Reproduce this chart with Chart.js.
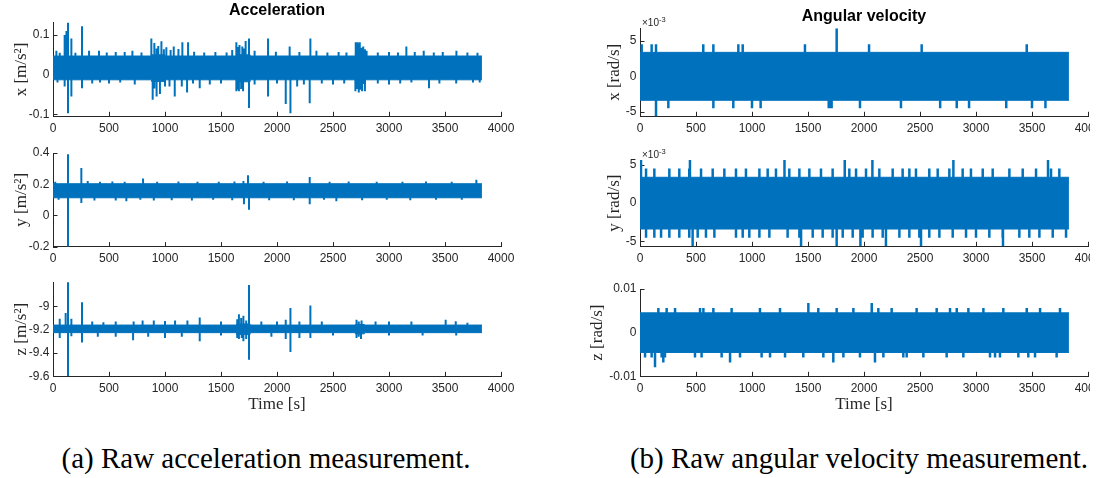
<!DOCTYPE html>
<html>
<head>
<meta charset="utf-8">
<script src="https://cdn.jsdelivr.net/npm/chart.js@4.4.1/dist/chart.umd.min.js"></script>
<style>
  body { margin: 0; background: #fff; width: 1103px; height: 478px; overflow: hidden; position: relative; }
  .box { position: absolute; overflow: hidden; }
  .cap { position: absolute; font-family: 'Liberation Serif', serif; font-size: 29px; line-height: 29px;
         white-space: nowrap; color: #000; text-align: center; }
</style>
</head>
<body>
<div class="box" id="b1"><canvas id="c1"></canvas></div>
<div class="box" id="b2"><canvas id="c2"></canvas></div>
<div class="box" id="b3"><canvas id="c3"></canvas></div>
<div class="box" id="b4"><canvas id="c4"></canvas></div>
<div class="box" id="b5"><canvas id="c5"></canvas></div>
<div class="box" id="b6"><canvas id="c6"></canvas></div>
<div class="cap" style="left:0;width:532px;top:444px">(a) Raw acceleration measurement.</div>
<div class="cap" style="left:620px;width:478px;top:444px">(b) Raw angular velocity measurement.</div>
<script>
// time axis
const timeTicks = [0, 500, 1000, 1500, 2000, 2500, 3000, 3500, 4000];

// y tick labels
const accXTicks = [-0.1, 0, 0.1];
const accYTicks = [-0.2, 0, 0.2, 0.4];
const accZTicks = [-9.6, -9.4, -9.2, -9];
const gyrXTicks = [-0.005, 0, 0.005];
const gyrYTicks = [-0.005, 0, 0.005];
const gyrZTicks = [-0.01, 0, 0.01];

// noise band of each signal: [time, low, high], held until the next time
const accXBand = [[0, -0.013, 0.047], [880, -0.017, 0.05], [1000, -0.013, 0.047], [1640, -0.018, 0.05],
                  [1760, -0.013, 0.047], [2700, -0.022, 0.055], [2790, -0.013, 0.047], [3830, -0.013, 0.047]];
const accYBand = [[0, 0.113, 0.203], [3830, 0.113, 0.203]];
const accZBand = [[0, -9.225, -9.16], [1640, -9.24, -9.15], [1760, -9.225, -9.16], [2700, -9.235, -9.155],
                  [2780, -9.225, -9.16], [3830, -9.225, -9.16]];
const gyrXBand = [[0, -0.0034, 0.0034], [3830, -0.0034, 0.0034]];
const gyrYBand = [[0, -0.0034, 0.0034], [3830, -0.0034, 0.0034]];
const gyrZBand = [[0, -0.00454, 0.00454], [3830, -0.00454, 0.00454]];

// peaks sticking out of the band: [time, value]
const accXPeaks = [
  [30, 0.06], [60, 0.055], [104, 0.10], [120, 0.11], [134, 0.133], [164, 0.091], [200, 0.055], [259, 0.122],
  [322, 0.06], [411, 0.06], [480, 0.056], [560, 0.057], [640, 0.057], [709, 0.06], [790, 0.056], [878, 0.091],
  [905, 0.08], [925, 0.066], [940, 0.072], [968, 0.084], [990, 0.064], [1012, 0.069], [1050, 0.062], [1078, 0.071],
  [1120, 0.065], [1155, 0.082], [1206, 0.082], [1260, 0.058], [1350, 0.056], [1450, 0.057], [1550, 0.056],
  [1600, 0.062], [1637, 0.082], [1650, 0.07], [1665, 0.075], [1690, 0.071], [1705, 0.066], [1720, 0.085],
  [1750, 0.091], [1800, 0.06], [1920, 0.091], [1990, 0.058], [2113, 0.071], [2200, 0.057], [2298, 0.091],
  [2352, 0.06], [2450, 0.056], [2550, 0.057], [2620, 0.056], [2703, 0.082], [2712, 0.08], [2720, 0.082],
  [2730, 0.078], [2739, 0.082], [2755, 0.068], [2770, 0.071], [2785, 0.064], [2800, 0.06], [2900, 0.056],
  [3000, 0.057], [3080, 0.056], [3155, 0.071], [3230, 0.057], [3310, 0.06], [3400, 0.056], [3480, 0.057],
  [3602, 0.06], [3700, 0.056], [3790, 0.055],
  [40, -0.02], [104, -0.03], [134, -0.097], [164, -0.055], [259, -0.034], [350, -0.022], [420, -0.02],
  [500, -0.022], [600, -0.02], [730, -0.025], [890, -0.063], [905, -0.035], [925, -0.055], [955, -0.049],
  [1000, -0.03], [1040, -0.03], [1087, -0.055], [1150, -0.03], [1197, -0.045], [1250, -0.022], [1310, -0.034],
  [1400, -0.025], [1500, -0.022], [1637, -0.042], [1650, -0.038], [1660, -0.042], [1680, -0.036], [1697, -0.042],
  [1750, -0.084], [1800, -0.025], [1920, -0.055], [2000, -0.022], [2078, -0.074], [2120, -0.097], [2180, -0.03],
  [2240, -0.025], [2292, -0.072], [2400, -0.022], [2500, -0.025], [2600, -0.022], [2700, -0.042], [2715, -0.036],
  [2730, -0.045], [2745, -0.038], [2760, -0.042], [2785, -0.042], [2900, -0.022], [3000, -0.025], [3100, -0.022],
  [3200, -0.02], [3357, -0.034], [3450, -0.022], [3600, -0.022], [3750, -0.02], [3810, -0.02]
];
const accYPeaks = [
  [20, 0.215], [134, 0.392], [253, 0.304], [310, 0.22], [420, 0.215], [530, 0.218], [640, 0.215], [804, 0.236],
  [930, 0.215], [1120, 0.218], [1290, 0.215], [1480, 0.215], [1620, 0.218], [1700, 0.22], [1741, 0.257],
  [1880, 0.215], [2090, 0.218], [2292, 0.246], [2470, 0.215], [2640, 0.218], [2890, 0.215], [3120, 0.215],
  [3330, 0.218], [3560, 0.215], [3780, 0.229],
  [50, 0.1], [134, -0.203], [253, 0.08], [370, 0.095], [560, 0.095], [655, 0.09], [780, 0.1], [900, 0.095],
  [1060, 0.097], [1240, 0.095], [1430, 0.1], [1600, 0.097], [1705, 0.071], [1750, 0.037], [1930, 0.097],
  [2150, 0.097], [2292, 0.071], [2420, 0.1], [2530, 0.09], [2760, 0.097], [2980, 0.1], [3190, 0.097],
  [3420, 0.1], [3650, 0.1]
];
const accZPeaks = [
  [60, -9.105], [113, -9.057], [134, -8.792], [164, -9.105], [259, -8.963], [350, -9.13], [450, -9.135],
  [560, -9.13], [720, -9.13], [800, -9.12], [900, -9.12], [1000, -9.125], [1090, -9.12], [1200, -9.12],
  [1310, -9.094], [1500, -9.13], [1645, -9.11], [1660, -9.066], [1680, -9.1], [1700, -9.08], [1725, -9.12],
  [1750, -8.815], [1860, -9.13], [2000, -9.13], [2078, -9.114], [2120, -9.014], [2200, -9.13], [2298, -8.992],
  [2400, -9.13], [2710, -9.114], [2730, -9.13], [2755, -9.12], [2880, -9.13], [3000, -9.13], [3200, -9.13],
  [3506, -9.114], [3596, -9.128], [3700, -9.14],
  [60, -9.27], [134, -9.6], [164, -9.257], [259, -9.309], [400, -9.26], [560, -9.26], [715, -9.291],
  [850, -9.26], [1000, -9.27], [1150, -9.26], [1310, -9.3], [1500, -9.25], [1645, -9.27], [1660, -9.28],
  [1685, -9.27], [1700, -9.3], [1725, -9.28], [1750, -9.457], [1950, -9.26], [2078, -9.28], [2120, -9.392],
  [2200, -9.27], [2298, -9.27], [2500, -9.25], [2710, -9.27], [2730, -9.26], [2750, -9.28], [3000, -9.25],
  [3300, -9.25], [3600, -9.25]
];
const gyrXPeaks = [
  [15, 0.00454], [104, 0.00454], [143, 0.00454], [565, 0.00454], [655, 0.00454], [878, 0.00454],
  [917, 0.00454], [1473, 0.00454], [1756, 0.00681], [2045, 0.00454], [2515, 0.00454], [3453, 0.00454],
  [143, -0.00567], [253, -0.00454], [655, -0.00454], [833, -0.00454], [1000, -0.00454], [1077, -0.00454],
  [1685, -0.00454], [1698, -0.00454], [1711, -0.00454], [1964, -0.00454], [2330, -0.00454], [2680, -0.00454],
  [2828, -0.00454], [2938, -0.00454], [3270, -0.00454], [3500, -0.00454], [3620, -0.00454]
];
const gyrYPeaks = [
  [9, 0.00567], [446, 0.00567], [1290, 0.00567], [1828, 0.00567], [2075, 0.00567], [2798, 0.00567], [3643, 0.00567],
  [54, 0.00454], [128, 0.00454], [262, 0.00454], [351, 0.00454], [440, 0.00454], [545, 0.00454], [649, 0.00454],
  [753, 0.00454], [857, 0.00454], [946, 0.00454], [1066, 0.00454], [1140, 0.00454], [1214, 0.00454],
  [1333, 0.00454], [1423, 0.00454], [1512, 0.00454], [1616, 0.00454], [1720, 0.00454], [1869, 0.00454],
  [1929, 0.00454], [2018, 0.00454], [2137, 0.00454], [2256, 0.00454], [2345, 0.00454], [2405, 0.00454],
  [2464, 0.00454], [2583, 0.00454], [2658, 0.00454], [2762, 0.00454], [2881, 0.00454], [2955, 0.00454],
  [3060, 0.00454], [3149, 0.00454], [3298, 0.00454], [3417, 0.00454], [3536, 0.00454], [3670, 0.00454],
  [3744, 0.00454],
  [54, -0.00454], [128, -0.00454], [188, -0.00454], [262, -0.00454], [351, -0.00454], [440, -0.00454],
  [515, -0.00454], [589, -0.00454], [664, -0.00454], [857, -0.00454], [917, -0.00454], [976, -0.00454],
  [1066, -0.00454], [1155, -0.00454], [1318, -0.00454], [1423, -0.00454], [1542, -0.00454], [1631, -0.00454],
  [1720, -0.00454], [1810, -0.00454], [1899, -0.00454], [1988, -0.00454], [2077, -0.00454], [2167, -0.00454],
  [2316, -0.00454], [2405, -0.00454], [2494, -0.00454], [2583, -0.00454], [2673, -0.00454], [2792, -0.00454],
  [2911, -0.00454], [3000, -0.00454], [3119, -0.00454], [3238, -0.00454], [3387, -0.00454], [3476, -0.00454],
  [3566, -0.00454], [3685, -0.00454], [3804, -0.00454],
  [470, -0.00567], [1438, -0.00567], [1756, -0.00567], [1968, -0.00567], [2196, -0.00567], [2509, -0.00567],
  [3241, -0.00567]
];
const gyrZPeaks = [
  [164, 0.00567], [238, 0.00567], [313, 0.00567], [536, 0.00567], [566, 0.00567], [655, 0.00567],
  [818, 0.00567], [1071, 0.00567], [1250, 0.00567], [1503, 0.00681], [1592, 0.00567], [1756, 0.00567],
  [1905, 0.00567], [2069, 0.00681], [2128, 0.00567], [2247, 0.00567], [2470, 0.00567], [2649, 0.00567],
  [2768, 0.00567], [2828, 0.00567], [2932, 0.00567], [3066, 0.00567], [3244, 0.00567], [3453, 0.00567],
  [3572, 0.00567], [3750, 0.00567],
  [45, -0.00567], [104, -0.00567], [134, -0.00794], [193, -0.00567], [208, -0.00681], [223, -0.00567],
  [491, -0.00567], [550, -0.00567], [729, -0.00567], [804, -0.00681], [893, -0.00567], [1086, -0.00567],
  [1161, -0.00567], [1295, -0.00567], [1458, -0.00567], [1637, -0.00567], [1726, -0.00681], [1816, -0.00567],
  [1964, -0.00567], [2098, -0.00681], [2173, -0.00567], [2351, -0.00567], [2381, -0.00567], [2530, -0.00567],
  [2738, -0.00567], [2887, -0.00567], [3125, -0.00567], [3170, -0.00567], [3214, -0.00567], [3378, -0.00567],
  [3467, -0.00567], [3527, -0.00567], [3720, -0.00567]
];

const BLUE = '#0072BD';
const AXIS = '#262626';

Chart.defaults.font.family = "'Liberation Sans', Arial, sans-serif";
Chart.defaults.color = AXIS;

function bandSets(band) {
  return [
    { data: band.map(r => ({ x: r[0], y: r[2] })), borderColor: BLUE, backgroundColor: BLUE,
      borderWidth: 1, pointRadius: 0, stepped: true, fill: '+1' },
    { data: band.map(r => ({ x: r[0], y: r[1] })), borderColor: BLUE,
      borderWidth: 1, pointRadius: 0, stepped: true, fill: false }
  ];
}

function peakSet(peaks, band, w) {
  const mid = (band[0][1] + band[0][2]) / 2;
  const pts = [];
  peaks.forEach(p => pts.push({ x: p[0], y: mid }, { x: p[0], y: p[1] }, { x: p[0], y: mid }));
  return { data: pts, borderColor: BLUE, borderWidth: w, pointRadius: 0, fill: false };
}

// inward tick marks like matlab, plus the x10^-3 multiplier
const matlabTicks = {
  id: 'matlabTicks',
  beforeDatasetsDraw(chart, args, opts) {
    const { ctx, chartArea: a, scales: { x, y } } = chart;
    ctx.save();
    ctx.strokeStyle = AXIS;
    ctx.lineWidth = 1;
    ctx.beginPath();
    x.ticks.forEach(t => {
      const px = Math.round(x.getPixelForValue(t.value)) + 0.5;
      ctx.moveTo(px, a.bottom); ctx.lineTo(px, a.bottom - 4.5);
    });
    y.ticks.forEach(t => {
      const py = Math.round(y.getPixelForValue(t.value)) + 0.5;
      ctx.moveTo(a.left, py); ctx.lineTo(a.left + 4.5, py);
    });
    ctx.stroke();
    if (opts.exp) {
      ctx.fillStyle = AXIS;
      ctx.textBaseline = 'alphabetic';
      ctx.font = "10px 'Liberation Sans', Arial, sans-serif";
      ctx.fillText('\u00d710', a.left + 2, a.top - 2);
      const w = ctx.measureText('\u00d710').width;
      ctx.font = "7.5px 'Liberation Sans', Arial, sans-serif";
      ctx.fillText(opts.exp, a.left + 2 + w, a.top - 6);
    }
    ctx.restore();
  }
};

function makePlot(n, p) {
  const plotW = 448;
  const cw = p.yW + plotW + p.padR;
  const ch = Math.ceil(p.B - p.cy + p.Hx + 2);
  const padB = ch - p.Hx - (p.B - p.cy);
  const box = document.getElementById('b' + n);
  box.style.left = p.cx + 'px';
  box.style.top = p.cy + 'px';
  box.style.width = (p.boxW || cw) + 'px';
  box.style.height = ch + 'px';
  const cv = document.getElementById('c' + n);
  cv.width = cw; cv.height = ch;

  new Chart(cv, {
    type: 'line',
    data: { datasets: bandSets(p.band).concat([peakSet(p.peaks, p.band, p.lw)]) },
    options: {
      responsive: false, animation: false, devicePixelRatio: 1, events: [],
      layout: { padding: { left: 0, right: p.padR, top: p.padT, bottom: padB } },
      plugins: {
        legend: { display: false }, tooltip: { enabled: false },
        title: p.title ? {
          display: true, text: p.title, fullSize: false, color: '#000',
          font: { size: 16, weight: 'bold' }, padding: p.titlePad
        } : { display: false },
        matlabTicks: { exp: p.exp || null }
      },
      scales: {
        x: {
          type: 'linear', min: 0, max: 4000,
          afterBuildTicks: s => { s.ticks = timeTicks.map(v => ({ value: v })); },
          afterFit: s => { s.height = p.Hx; },
          ticks: { padding: 5, autoSkip: false, maxRotation: 0, font: { size: 12 }, color: AXIS,
                   callback: v => String(v) },
          grid: { display: false, drawTicks: false },
          border: { display: true, color: AXIS, width: 1 },
          title: p.xTitle ? {
            display: true, text: p.xTitle, color: AXIS,
            font: { family: "'Liberation Serif', serif", size: 17 }, padding: { top: 0, bottom: 3.8 }
          } : { display: false }
        },
        y: {
          type: 'linear', min: p.min, max: p.max,
          afterBuildTicks: s => { s.ticks = p.ticks.map(v => ({ value: v })); },
          afterFit: s => { s.width = p.yW; },
          ticks: { padding: 3.5, autoSkip: false, font: { size: 12 }, color: AXIS, callback: p.fmt },
          grid: { display: false, drawTicks: false },
          border: { display: true, color: AXIS, width: 1 },
          title: {
            display: true, text: p.yTitle, color: AXIS,
            font: { family: "'Liberation Serif', serif", size: 17 }, padding: { top: p.yTitlePad, bottom: 0 }
          }
        }
      }
    },
    plugins: [matlabTicks]
  });
}

const plain = v => String(v);
const milli = v => String(Math.round(v * 1000));

// left: acceleration
makePlot(1, { cx: 0, cy: 0, yW: 53, padR: 39, padT: 0, B: 116.3, Hx: 20, title: 'Acceleration',
  titlePad: { top: 0.9, bottom: 2.6 }, min: -0.105, max: 0.131, ticks: accXTicks, fmt: plain,
  yTitle: 'x [m/s\u00b2]', yTitlePad: 11.5, band: accXBand, peaks: accXPeaks, lw: 2 });
makePlot(2, { cx: 0, cy: 132.7, yW: 53, padR: 39, padT: 20, B: 246.3, Hx: 20,
  min: -0.2, max: 0.4, ticks: accYTicks, fmt: plain,
  yTitle: 'y [m/s\u00b2]', yTitlePad: 11.5, band: accYBand, peaks: accYPeaks, lw: 2 });
makePlot(3, { cx: 0, cy: 262, yW: 53, padR: 39, padT: 20, B: 376.3, Hx: 42, xTitle: 'Time [s]',
  min: -9.6, max: -8.79, ticks: accZTicks, fmt: plain,
  yTitle: 'z [m/s\u00b2]', yTitlePad: 11.5, band: accZBand, peaks: accZPeaks, lw: 2 });

// right: angular velocity
makePlot(4, { cx: 570, cy: 0, yW: 70, padR: 40, padT: 0, B: 116.3, Hx: 20, boxW: 520, title: 'Angular velocity',
  titlePad: { top: 6.9, bottom: 2.2 }, min: -0.00567, max: 0.00681, ticks: gyrXTicks, fmt: milli, exp: '-3',
  yTitle: 'x [rad/s]', yTitlePad: 34.8, band: gyrXBand, peaks: gyrXPeaks, lw: 2.5 });
makePlot(5, { cx: 570, cy: 140, yW: 70, padR: 40, padT: 20, B: 246.3, Hx: 20, boxW: 520,
  min: -0.00567, max: 0.00567, ticks: gyrYTicks, fmt: milli, exp: '-3',
  yTitle: 'y [rad/s]', yTitlePad: 34.8, band: gyrYBand, peaks: gyrYPeaks, lw: 2.5 });
makePlot(6, { cx: 570, cy: 269, yW: 70, padR: 40, padT: 20, B: 376.3, Hx: 42, boxW: 520, xTitle: 'Time [s]',
  min: -0.01, max: 0.01, ticks: gyrZTicks, fmt: plain,
  yTitle: 'z [rad/s]', yTitlePad: 17.8, band: gyrZBand, peaks: gyrZPeaks, lw: 2.5 });
</script>
</body>
</html>
